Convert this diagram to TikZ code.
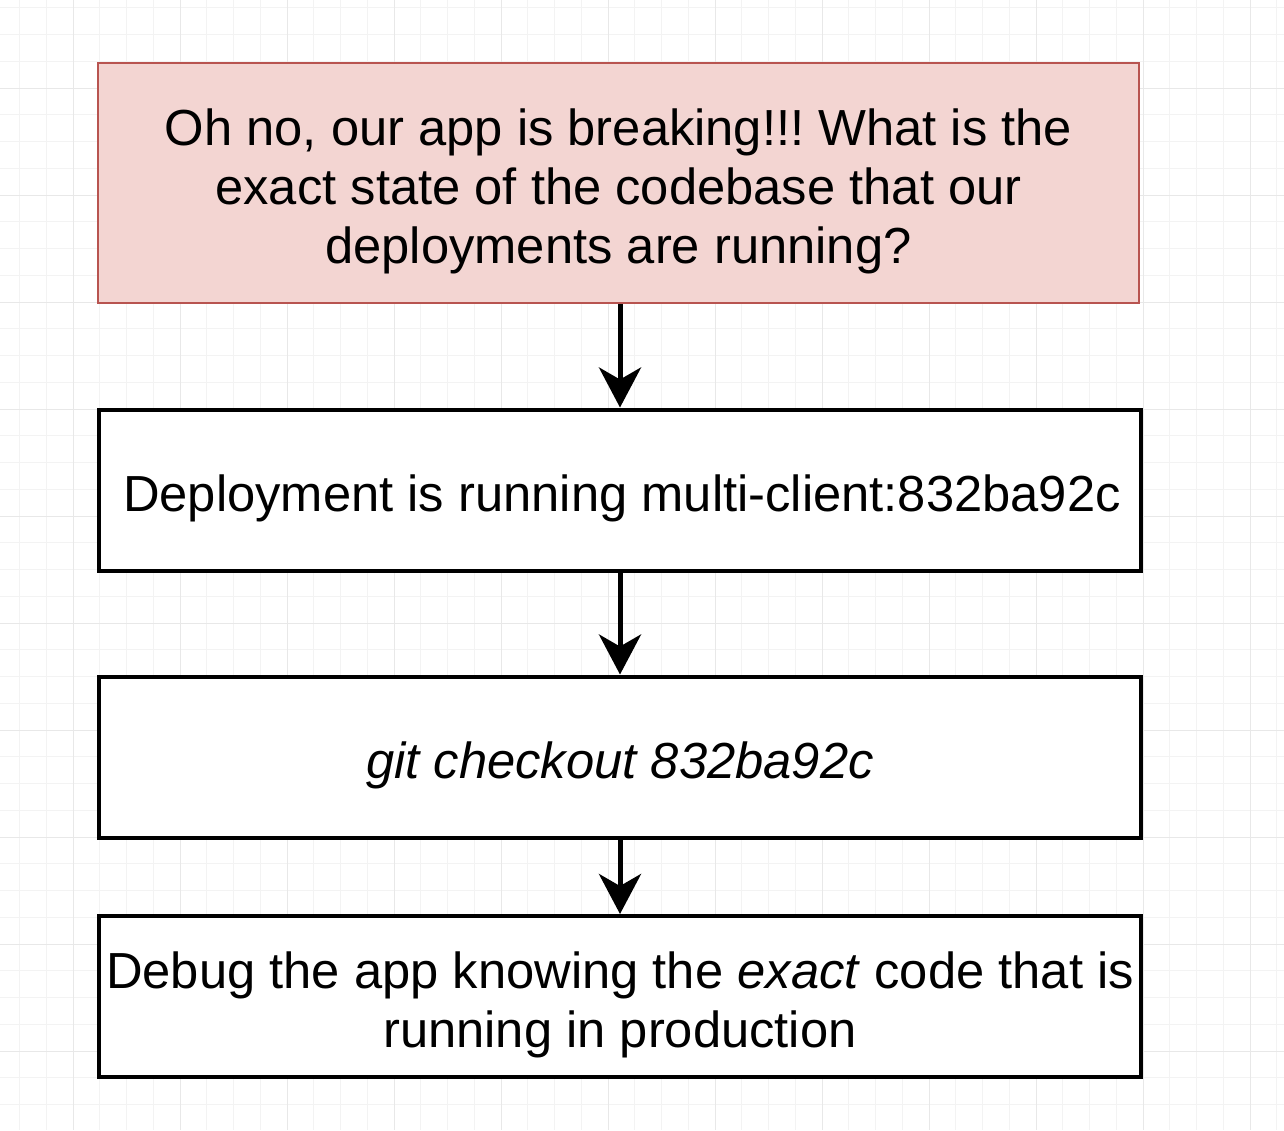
\documentclass[tikz,border=0pt]{standalone}
\usepackage{fontspec}
\setmainfont{Liberation Sans}
\usetikzlibrary{arrows.meta}
\definecolor{pinkfill}{HTML}{F3D5D2}
\definecolor{pinkdraw}{HTML}{B85450}
\definecolor{gridminor}{HTML}{F3F3F3}
\definecolor{gridmajor}{HTML}{E8E8E8}
\frenchspacing
\begin{document}
\begin{tikzpicture}[x=1pt,y=-1pt,
  box/.style={draw=black, line width=4pt, fill=white, minimum width=1042pt,
    minimum height=161pt, inner sep=0pt},
  txt/.style={inner sep=0pt, align=center, font=\fontsize{50.7}{59}\selectfont},
  flow/.style={line width=5pt, -{Stealth[length=40pt,width=42pt,inset=12pt]}}]
\fill[white] (0,0) rectangle (1284,1130);
\useasboundingbox (0,0) rectangle (1284,1130);
\begin{scope}
\clip (0,0) rectangle (1284,1130);
\foreach \i in {0,...,48} {\draw[gridminor, line width=1pt] ({19.5+26.75*\i},0) -- ++(0,1130);}
\foreach \i in {0,...,42} {\draw[gridminor, line width=1pt] (0,{7.75+26.75*\i}) -- ++(1284,0);}
\foreach \i in {0,...,11} {\draw[gridmajor, line width=1pt] ({73+107*\i},0) -- ++(0,1130);}
\foreach \i in {0,...,9} {\draw[gridmajor, line width=1pt] (0,{88+107*\i}) -- ++(1284,0);}
\end{scope}
\node[box, fill=pinkfill, draw=pinkdraw, line width=2.5pt, minimum width=1041pt, minimum height=240pt] (q) at (618.5,183) {};
\node[txt] (qt) at ([yshift=-8pt]q.center)
  {Oh no, our app is breaking!!! What is the\\exact state of the codebase that our\\deployments are running?};
\node[box] (d) at (620,490) {};
\node[txt] (dt) at ([xshift=2pt,yshift=-8pt]d.center) {Deployment is running multi-client:832ba92c};
\node[box] (g) at (620,757) {};
\node[txt, font=\fontsize{50.7}{59}\selectfont\itshape] (gt) at ([yshift=-8pt]g.center) {git checkout 832ba92c};
\node[box] (b) at (620,996.5) {};
\node[txt] (bt) at ([yshift=-8pt]b.center) {Debug the app knowing the \textit{exact} code that is\\running in production};
\draw[flow] (d.north |- q.south) -- (d.north);
\draw[flow] (d.south) -- (g.north);
\draw[flow] (g.south) -- (b.north);
\end{tikzpicture}
\end{document}
